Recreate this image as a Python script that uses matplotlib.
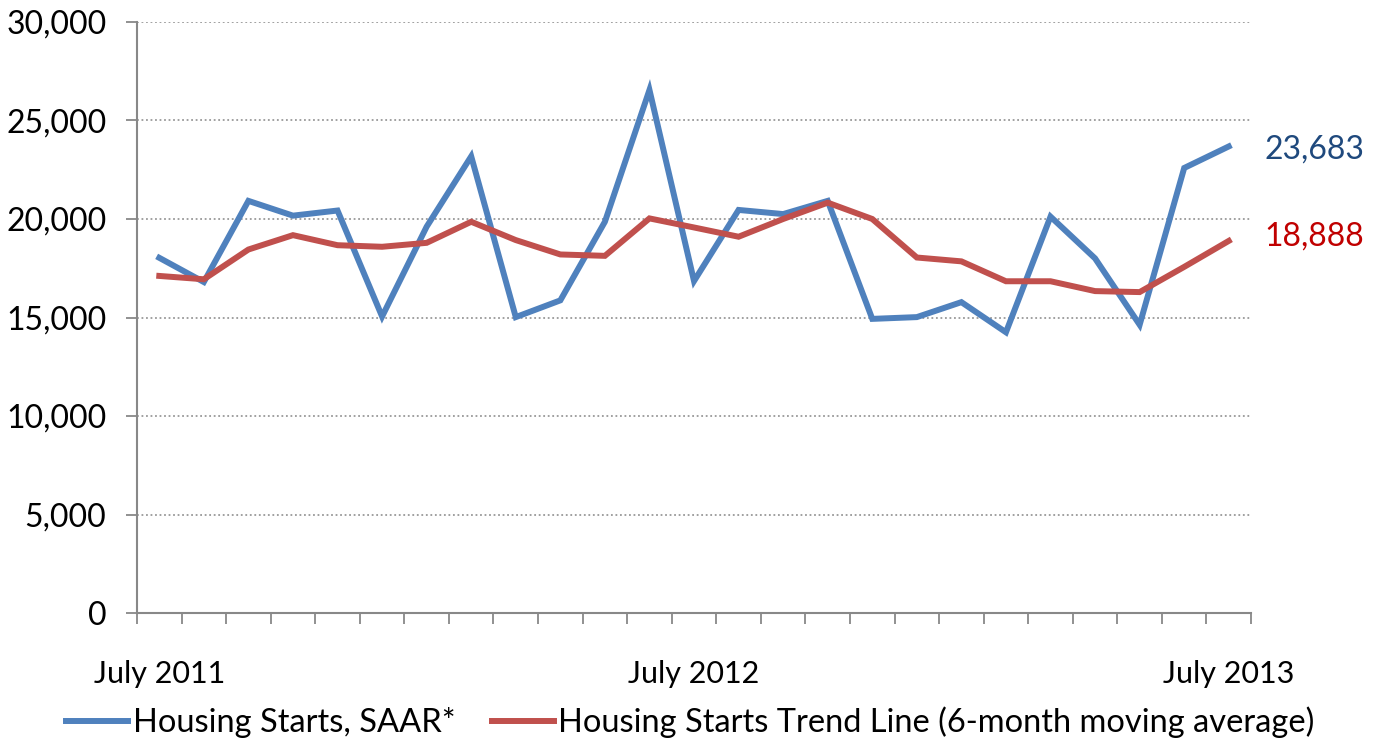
import numpy as np
import matplotlib.pyplot as plt

plt.rcParams['font.family'] = ['Lato', 'DejaVu Sans']

months = ['July 2011', 'Aug 2011', 'Sep 2011', 'Oct 2011', 'Nov 2011', 'Dec 2011',
          'Jan 2012', 'Feb 2012', 'Mar 2012', 'Apr 2012', 'May 2012', 'June 2012',
          'July 2012', 'Aug 2012', 'Sep 2012', 'Oct 2012', 'Nov 2012', 'Dec 2012',
          'Jan 2013', 'Feb 2013', 'Mar 2013', 'Apr 2013', 'May 2013', 'June 2013',
          'July 2013']
starts = [18030, 16800, 20920, 20170, 20430, 15050, 19610, 23180, 15020, 15870,
          19860, 26550, 16850, 20460, 20250, 20920, 14930, 15020, 15780, 14250,
          20120, 18000, 14630, 22590, 23683]
trend = [17110, 16940, 18450, 19180, 18670, 18590, 18790, 19860, 18930, 18200,
         18130, 20030, 19570, 19100, 20000, 20830, 20000, 18045, 17850, 16840,
         16840, 16340, 16290, 17570, 18888]
shown_labels = ['July 2011', 'July 2012', 'July 2013']

blue = '#4F81BD'
red = '#C0504D'

fig = plt.figure(figsize=(13.81, 7.53), dpi=100)
ax = fig.add_axes([0.0992, 0.1859, 0.8067, 0.7849])

x = np.arange(len(months))
ax.plot(x, starts, color=blue, lw=4.3, solid_joinstyle='miter', label='Housing Starts, SAAR*')
ax.plot(x, trend, color=red, lw=4.3, solid_joinstyle='miter',
        label='Housing Starts Trend Line (6-month moving average)')

ax.set_xlim(-0.5, len(months) - 0.5)
ax.set_ylim(0, 30000)
ax.set_yticks(range(0, 30001, 5000))
ax.set_yticklabels([f'{v:,}' for v in range(0, 30001, 5000)])
for v in range(5000, 30001, 5000):
    ax.axhline(v, color='#999999', lw=1.3, ls=(0, (1, 1.5)), zorder=0)

ax.set_xticks([months.index(m) for m in shown_labels])
ax.set_xticklabels(shown_labels)
ax.set_xticks(np.arange(-0.5, len(months)), minor=True)
ax.tick_params(axis='x', which='major', length=0, pad=34, labelsize=22)
ax.tick_params(axis='x', which='minor', length=8, width=1.3, color='#888888', direction='out')
ax.tick_params(axis='y', length=8, width=1.3, color='#888888', pad=14, labelsize=23)

for s in ['top', 'right']:
    ax.spines[s].set_visible(False)
for s in ['left', 'bottom']:
    ax.spines[s].set_color('#888888')
    ax.spines[s].set_linewidth(1.5)

ax.text(len(months) - 0.2, starts[-1] - 150, f'{starts[-1]:,}', color='#1F497D',
        fontsize=23, va='center', ha='left', clip_on=False)
ax.text(len(months) - 0.2, trend[-1] + 200, f'{trend[-1]:,}', color='#C00000',
        fontsize=23, va='center', ha='left', clip_on=False)

fig.legend(loc='center', bbox_to_anchor=(0.5, 0.041), ncol=2, frameon=False,
           fontsize=23.5, handlelength=1.9, handletextpad=0.15, columnspacing=1.1)

fig.savefig('out.png', dpi=100)
